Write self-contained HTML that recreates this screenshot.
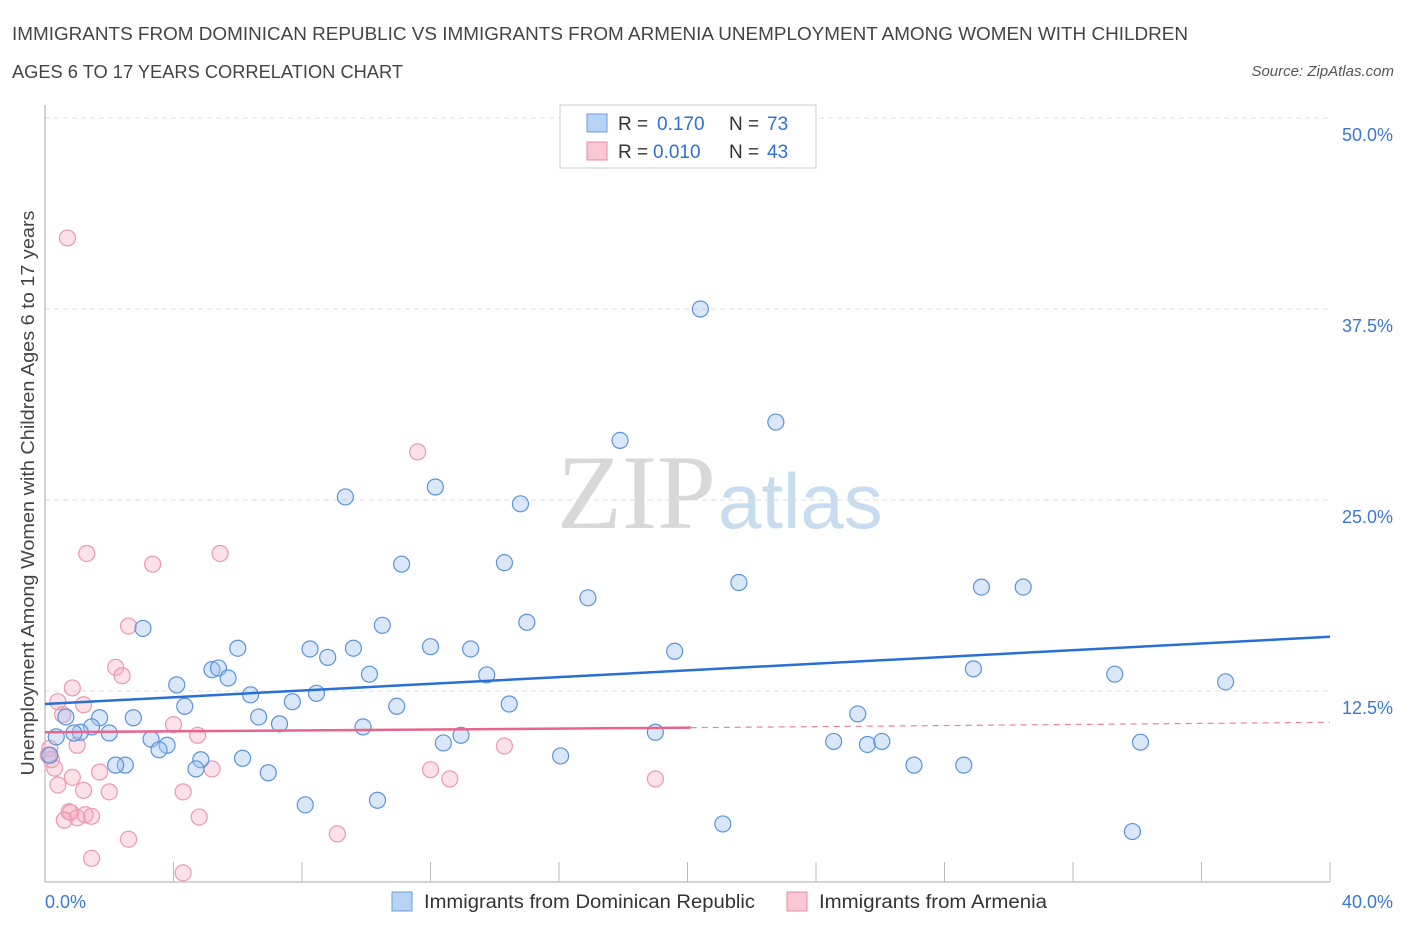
<!DOCTYPE html>
<html><head><meta charset="utf-8"><style>
body{margin:0;background:#fff;font-family:"Liberation Sans",sans-serif;}
svg text{font-family:"Liberation Sans",sans-serif;}
</style></head><body>
<svg width="1406" height="930" xmlns="http://www.w3.org/2000/svg">
<text x="12" y="40" font-size="18" fill="#444" textLength="1176" lengthAdjust="spacingAndGlyphs">IMMIGRANTS FROM DOMINICAN REPUBLIC VS IMMIGRANTS FROM ARMENIA UNEMPLOYMENT AMONG WOMEN WITH CHILDREN</text>
<text x="12" y="78" font-size="18" fill="#444" textLength="391" lengthAdjust="spacingAndGlyphs">AGES 6 TO 17 YEARS CORRELATION CHART</text>
<text x="1394" y="76" font-size="15" fill="#555" font-style="italic" text-anchor="end">Source: ZipAtlas.com</text>
<text x="716" y="528" font-size="106" fill="#d8d8d8" text-anchor="end" style="font-family:'Liberation Serif',serif">ZIP</text>
<text x="718" y="528" font-size="78" fill="#c8dcf0">atlas</text>
<g id="grid"></g>
<g id="axes"></g>
<text transform="translate(34,493) rotate(-90)" font-size="18" fill="#444" text-anchor="middle" textLength="565" lengthAdjust="spacingAndGlyphs">Unemployment Among Women with Children Ages 6 to 17 years</text>
<g id="pts"></g>
<g id="trend"></g>
<g>
<rect x="560" y="105" width="256" height="63" fill="#fff" stroke="#ccc"/>
<rect x="587" y="114" width="20" height="18" fill="#b8d2f5" stroke="#6b9de0"/>
<text x="618" y="130" font-size="19" fill="#333">R =</text><text x="657" y="130" font-size="19" fill="#2f6fd6">0.170</text>
<text x="729" y="130" font-size="19" fill="#333">N =</text><text x="767" y="130" font-size="19" fill="#2f6fd6">73</text>
<rect x="587" y="142" width="20" height="18" fill="#f9c6d4" stroke="#e88aa5"/>
<text x="618" y="158" font-size="19" fill="#333">R =</text><text x="653" y="158" font-size="19" fill="#2f6fd6">0.010</text>
<text x="729" y="158" font-size="19" fill="#333">N =</text><text x="767" y="158" font-size="19" fill="#2f6fd6">43</text>
</g>
<g>
<rect x="392" y="892" width="20" height="19" fill="#b8d2f5" stroke="#6b9de0"/>
<text x="424" y="908" font-size="19" fill="#333" textLength="331" lengthAdjust="spacingAndGlyphs">Immigrants from Dominican Republic</text>
<rect x="787" y="892" width="20" height="19" fill="#f9c6d4" stroke="#e88aa5"/>
<text x="819" y="908" font-size="19" fill="#333" textLength="228" lengthAdjust="spacingAndGlyphs">Immigrants from Armenia</text>
</g>
</svg>
<script>
const yTicks=[12.5,25,37.5,50];
const yTickLabels=["12.5%","25.0%","37.5%","50.0%"];
const blueX=[20.4,22.75,17.9,9.35,12.15,14.8,11.1,14.3,21.6,16.9,29.15,30.45,3.05,10.5,15.0,6.0,8.25,9.6,12.0,13.25,19.6,8.8,5.2,5.4,5.7,10.1,13.75,28.9,33.3,36.75,4.1,6.4,8.45,4.35,7.7,10.95,14.45,0.65,1.7,2.75,6.65,7.3,25.3,1.45,1.1,2.0,0.9,9.9,19.0,3.3,3.8,3.55,12.95,12.4,0.35,0.15,24.55,25.6,26.05,34.1,4.85,6.15,2.5,2.2,4.7,6.95,16.05,27.05,28.6,8.1,10.35,21.1,33.85];
const blueY=[37.5,30.1,28.9,25.2,25.85,24.75,20.8,20.9,19.6,18.6,19.3,19.3,16.6,16.8,17.0,15.3,15.25,15.3,15.4,15.25,15.1,14.7,13.9,14.0,13.35,13.6,13.55,13.95,13.6,13.1,12.9,12.25,12.35,11.5,11.8,11.5,11.65,10.8,10.75,10.75,10.8,10.35,11.0,10.15,9.8,9.75,9.75,10.15,9.8,9.35,8.95,8.65,9.6,9.1,9.5,8.3,9.2,9.0,9.2,9.15,8.0,8.1,7.65,7.65,7.4,7.15,8.25,7.65,7.65,5.05,5.35,3.8,3.3];
const pinkX=[0.7,11.6,1.3,5.45,3.35,2.6,2.2,2.4,0.85,0.4,1.2,0.55,4.0,4.75,1.0,0.15,0.2,0.3,14.3,1.7,0.85,5.2,12.0,12.6,19.0,0.4,1.2,2.0,4.3,0.75,0.8,1.0,1.25,1.45,0.6,4.8,2.6,9.1,1.45,4.3,0.1];
const pinkY=[42.15,28.15,21.5,21.5,20.8,16.75,14.05,13.5,12.7,11.8,11.6,10.95,10.3,9.6,8.95,8.75,8.0,7.45,8.9,7.2,6.85,7.4,7.35,6.75,6.75,6.35,6.0,5.9,5.9,4.6,4.55,4.2,4.4,4.3,4.05,4.25,2.8,3.15,1.55,0.6,8.3];
const blueTrend=[11.65,16.05];
const pinkTrend=[9.8,10.1,10.45];
const NS="http://www.w3.org/2000/svg";
const X=v=>45+v/40*1285, Y=v=>882-v/50*764;
function mk(t,a,p){const e=document.createElementNS(NS,t);for(const k in a)e.setAttribute(k,a[k]);document.getElementById(p).appendChild(e);return e;}
yTicks.forEach((t,i)=>{
 const l=mk('line',{x1:45,x2:1330,y1:Y(t),y2:Y(t),stroke:'#ddd','stroke-dasharray':'5,4'},'grid');
 
 
 const tx=mk('text',{x:1393,y:Y(t)+23,'font-size':18,fill:'#3a78d4','text-anchor':'end'},'grid');
 tx.textContent=yTickLabels[i];
 
 
});
let a=mk('line',{x1:45,x2:45,y1:105,y2:882,stroke:'#aaa'},'axes');


a=mk('line',{x1:45,x2:1330,y1:882,y2:882,stroke:'#aaa'},'axes');


for(let i=1;i<=10;i++){const tk=mk('line',{x1:X(i*4),x2:X(i*4),y1:862,y2:882,stroke:'#bbb'},'axes');
 
 }
[["0.0%",45,'start'],["40.0%",1393,'end']].forEach(d=>{const tx=mk('text',{x:d[1],y:908,'font-size':18,fill:'#3a78d4','text-anchor':d[2]},'axes');tx.textContent=d[0];
 
 });
pinkX.forEach((v,i)=>{const c=mk('circle',{cx:X(v),cy:Y(pinkY[i]),r:8,fill:'rgba(246,170,192,0.35)',stroke:'#eb98b0','stroke-width':1.2},'pts');
 
 });
blueX.forEach((v,i)=>{const c=mk('circle',{cx:X(v),cy:Y(blueY[i]),r:8,fill:'rgba(160,196,240,0.4)',stroke:'#5a93dc','stroke-width':1.2},'pts');
 
 });
let t=mk('line',{x1:X(0),y1:Y(blueTrend[0]),x2:X(40),y2:Y(blueTrend[1]),stroke:'#2a6fd6','stroke-width':2.5},'trend');


t=mk('line',{x1:X(0),y1:Y(pinkTrend[0]),x2:X(20.1),y2:Y(pinkTrend[1]),stroke:'#e8648c','stroke-width':2.5},'trend');


t=mk('line',{x1:X(20.1),y1:Y(pinkTrend[1]),x2:X(40),y2:Y(pinkTrend[2]),stroke:'#e8849f','stroke-width':1.2,'stroke-dasharray':'6,5'},'trend');


</script>
</body></html>
